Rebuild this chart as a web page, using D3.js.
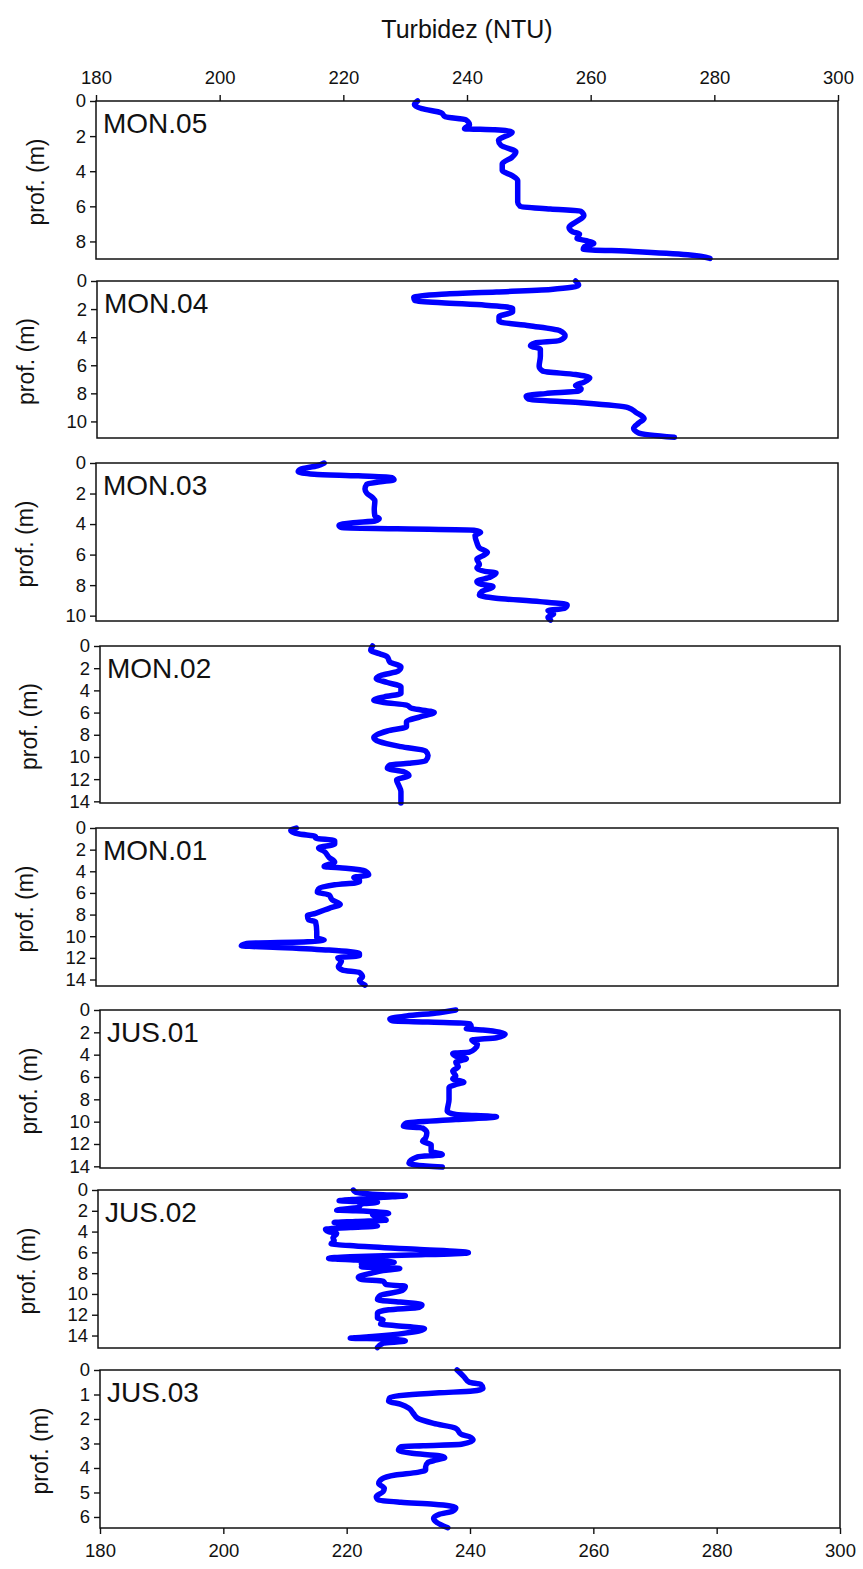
<!DOCTYPE html>
<html>
<head>
<meta charset="utf-8">
<script src="https://cdn.jsdelivr.net/npm/d3@7/dist/d3.min.js"></script>
<style>
  html, body { margin: 0; padding: 0; background: #fff; }
  svg { display: block; font-family: "Liberation Sans", Arial, sans-serif; }
</style>
</head>
<body>
<svg id="chart" width="863" height="1569"></svg>
<script>
// Turbidity profiles (NTU) against depth (m) at eight stations.
const stations = ["MON.05", "MON.04", "MON.03", "MON.02", "MON.01", "JUS.01", "JUS.02", "JUS.03"];
const turbTicks = [180, 200, 220, 240, 260, 280, 300];
const depthMax = [9, 11.18, 10.35, 14.15, 14.6, 14.15, 15.2, 6.45];
const depthStep = [2, 2, 2, 2, 2, 2, 2, 1];

const mon05Depth = [0, 0.2, 0.44, 0.67, 0.9, 1.07, 1.35, 1.58, 1.64, 1.77, 2.25, 2.53, 2.9, 3.2, 3.58, 3.96, 4.25, 4.53, 5.77, 6.0, 6.15, 6.28, 6.53, 6.91, 7.2, 7.45, 7.58, 7.83, 7.96, 8.11, 8.29, 8.44, 8.57, 8.76, 8.97];
const mon05Turb  = [232.0, 231.5, 232.7, 235.8, 236.5, 239.8, 240.4, 239.6, 244.5, 247.3, 245.1, 245.5, 247.9, 247.3, 245.7, 245.7, 247.3, 248.2, 248.2, 248.6, 253.5, 258.4, 258.9, 257.5, 256.5, 257.1, 258.2, 257.8, 259.3, 260.5, 259.0, 258.8, 266.9, 275.7, 279.3];

const mon04Depth = [0, 0.3, 0.6, 0.78, 0.94, 1.18, 1.41, 1.55, 1.72, 1.95, 2.19, 2.54, 2.89, 3.18, 3.53, 3.91, 4.24, 4.42, 4.61, 4.85, 5.36, 6.07, 6.42, 6.66, 6.89, 7.2, 7.44, 7.67, 7.84, 8.02, 8.19, 8.42, 8.66, 9.01, 9.36, 9.79, 10.12, 10.49, 10.82, 11.13];
const mon04Turb  = [257.5, 258.0, 253.5, 244.7, 235.8, 231.3, 231.5, 235.8, 242.9, 247.3, 247.3, 245.1, 245.1, 250.0, 254.9, 255.8, 254.9, 250.9, 250.2, 251.8, 251.8, 251.6, 252.2, 257.5, 259.8, 258.9, 257.5, 258.4, 258.0, 252.6, 249.5, 249.9, 258.0, 266.0, 267.3, 268.6, 267.7, 266.9, 267.7, 273.5];

const mon03Depth = [0, 0.18, 0.4, 0.57, 0.73, 0.84, 0.95, 1.1, 1.23, 1.38, 1.71, 1.98, 2.26, 2.48, 3.03, 3.47, 3.65, 3.8, 3.91, 4.09, 4.24, 4.31, 4.4, 4.53, 4.75, 5.23, 5.56, 5.85, 6.11, 6.29, 6.66, 6.88, 7.1, 7.21, 7.47, 7.76, 7.91, 8.09, 8.42, 8.64, 8.86, 9.08, 9.3, 9.52, 9.67, 9.89, 10.11, 10.29];
const mon03Turb  = [216.9, 215.8, 213.1, 212.7, 215.3, 222.4, 227.8, 228.2, 226.0, 223.8, 223.5, 223.8, 224.7, 225.1, 225.0, 225.1, 225.8, 225.1, 221.6, 219.3, 219.8, 228.7, 241.1, 242.2, 241.3, 241.6, 242.0, 243.3, 242.4, 241.6, 242.0, 241.6, 242.9, 244.7, 243.8, 241.6, 242.0, 244.2, 242.4, 242.0, 244.7, 251.8, 256.2, 255.8, 253.1, 254.0, 253.1, 253.5];

const mon02Depth = [0, 0.39, 0.69, 0.99, 1.44, 1.89, 2.28, 2.63, 2.93, 3.29, 3.68, 4.28, 4.58, 4.88, 5.09, 5.33, 5.63, 5.99, 6.38, 6.83, 7.28, 7.66, 8.26, 8.62, 9.07, 9.46, 9.88, 10.36, 10.57, 10.72, 11.02, 11.32, 11.68, 12.07, 12.51, 13.11, 14.15];
const mon02Turb  = [224.2, 223.9, 225.3, 226.6, 227.0, 228.8, 228.3, 225.7, 224.8, 226.6, 228.8, 228.8, 226.1, 224.4, 226.1, 229.7, 230.6, 234.2, 231.9, 229.7, 229.7, 226.6, 224.4, 225.3, 228.8, 232.8, 233.2, 232.8, 230.1, 227.0, 226.6, 229.2, 230.1, 228.1, 228.4, 228.8, 228.8];

const mon01Depth = [0, 0.25, 0.56, 0.77, 0.93, 1.17, 1.48, 1.85, 2.16, 2.72, 3.15, 3.55, 3.71, 3.96, 4.33, 4.57, 4.79, 5.0, 5.25, 5.62, 5.93, 6.18, 6.64, 7.05, 7.42, 7.88, 8.1, 8.5, 8.65, 9.58, 10.14, 10.35, 10.51, 10.66, 10.88, 11.06, 11.28, 11.59, 11.8, 11.99, 12.3, 12.82, 13.13, 13.35, 13.75, 14.06, 14.52];
const mon01Turb  = [212.4, 211.5, 212.9, 215.5, 215.5, 218.6, 218.6, 216.0, 216.9, 217.7, 218.6, 216.9, 220.4, 223.5, 224.1, 221.7, 222.6, 222.6, 218.6, 216.0, 215.8, 217.7, 218.2, 219.5, 217.7, 215.5, 214.2, 214.4, 215.5, 215.7, 215.7, 216.9, 214.2, 204.4, 203.5, 210.6, 217.7, 222.6, 222.6, 219.1, 219.7, 219.2, 219.9, 222.6, 223.1, 222.6, 223.5];

const jus01Depth = [0, 0.24, 0.54, 0.78, 0.99, 1.08, 1.2, 1.5, 1.68, 1.79, 2.18, 2.48, 2.69, 3.08, 3.47, 3.77, 3.89, 4.13, 4.37, 4.67, 5.09, 5.47, 5.92, 6.16, 6.46, 6.67, 6.97, 8.02, 9.06, 9.36, 9.57, 9.81, 10.11, 10.41, 10.57, 11.0, 11.46, 11.76, 12.06, 12.65, 12.95, 13.16, 13.7, 13.91, 14.06];
const jus01Turb  = [237.7, 235.0, 229.7, 227.0, 227.5, 233.2, 239.9, 240.2, 239.4, 242.1, 245.7, 244.3, 240.3, 241.2, 240.8, 239.9, 237.2, 237.7, 239.4, 237.7, 238.1, 237.2, 237.7, 237.2, 239.0, 237.7, 236.6, 236.6, 236.3, 237.7, 244.3, 237.7, 229.7, 229.2, 232.3, 233.0, 232.8, 232.3, 233.7, 233.7, 235.5, 231.5, 230.1, 231.5, 235.5];

const jus02Depth = [0, 0.23, 0.45, 0.55, 0.71, 0.87, 1.03, 1.1, 1.19, 1.35, 1.68, 1.94, 2.0, 2.26, 2.39, 2.65, 2.9, 3.03, 3.13, 3.29, 3.45, 3.61, 3.77, 4.0, 4.19, 4.58, 4.9, 5.16, 5.39, 5.71, 6.03, 6.26, 6.42, 6.58, 6.74, 6.84, 6.94, 7.1, 7.26, 7.39, 7.55, 7.74, 7.97, 8.39, 8.61, 8.77, 9.1, 9.26, 9.68, 10.13, 10.55, 10.77, 11.03, 11.29, 11.52, 11.84, 12.32, 12.48, 12.9, 13.03, 13.35, 13.77, 14.1, 14.26, 14.32, 14.52, 14.74, 15.16];
const jus02Turb  = [221.3, 221.7, 226.1, 229.7, 226.1, 222.6, 219.0, 221.7, 225.2, 222.6, 222.1, 218.6, 221.7, 227.0, 224.4, 225.2, 226.6, 221.7, 218.2, 222.6, 225.2, 220.8, 216.8, 217.3, 218.6, 218.0, 218.2, 217.7, 221.7, 231.5, 239.9, 230.6, 220.8, 217.3, 221.7, 226.1, 227.9, 222.6, 226.1, 222.6, 228.8, 226.1, 224.4, 222.1, 222.6, 226.1, 226.6, 229.7, 229.2, 225.7, 225.2, 228.8, 232.4, 231.9, 227.0, 225.2, 225.2, 226.1, 225.7, 227.9, 232.8, 229.7, 224.4, 220.8, 226.1, 229.7, 226.1, 225.2];

const jus03Depth = [0, 0.27, 0.5, 0.58, 0.75, 0.86, 0.93, 1.02, 1.13, 1.27, 1.4, 1.56, 1.77, 1.97, 2.18, 2.38, 2.63, 2.72, 2.86, 3.03, 3.09, 3.13, 3.27, 3.4, 3.5, 3.58, 3.67, 3.77, 3.95, 4.08, 4.18, 4.29, 4.45, 4.63, 4.83, 4.97, 5.17, 5.31, 5.4, 5.48, 5.62, 5.76, 5.89, 6.05, 6.22, 6.44];
const jus03Turb  = [237.9, 239.0, 239.9, 241.7, 242.1, 240.4, 235.0, 229.7, 227.0, 226.8, 228.8, 230.1, 230.8, 231.5, 234.1, 237.7, 238.6, 239.9, 240.5, 238.6, 232.4, 228.8, 228.4, 230.6, 235.0, 235.9, 234.6, 233.2, 232.8, 232.8, 231.5, 227.9, 225.7, 225.2, 226.1, 225.9, 224.8, 225.2, 228.8, 234.1, 237.7, 237.2, 235.0, 234.1, 234.6, 236.4];

const depthSeries = [mon05Depth, mon04Depth, mon03Depth, mon02Depth, mon01Depth, jus01Depth, jus02Depth, jus03Depth];
const turbSeries  = [mon05Turb, mon04Turb, mon03Turb, mon02Turb, mon01Turb, jus01Turb, jus02Turb, jus03Turb];

// Panel frames in page pixels: [left, top, right, bottom]
const frames = [
  [96, 101, 838, 259],
  [97, 281, 838, 438],
  [96, 463, 838, 621],
  [100, 646, 840, 803],
  [96, 828, 838, 986],
  [100, 1010, 840, 1168],
  [98, 1190, 840, 1348],
  [100, 1370, 840, 1528]
];

const svg = d3.select("#chart");
const ink = "#111";
const lineBlue = "#0000ff";
const tickFont = 18.5;

svg.append("text")
  .attr("x", 467).attr("y", 38)
  .attr("text-anchor", "middle")
  .attr("font-size", 25)
  .attr("fill", ink)
  .text("Turbidez (NTU)");

function styleAxis(sel) {
  sel.select(".domain").remove();
  sel.selectAll("line").attr("stroke", ink).attr("stroke-width", 1.4);
  sel.selectAll("text").attr("font-size", tickFont).attr("fill", ink)
    .attr("font-family", "'Liberation Sans', Arial, sans-serif");
}

stations.forEach((name, i) => {
  const [l, t, r, b] = frames[i];
  const x = d3.scaleLinear().domain([180, 300]).range([l, r]);
  const y = d3.scaleLinear().domain([0, depthMax[i]]).range([t, b]);
  const g = svg.append("g");

  // depth axis
  const ticks = d3.range(0, depthMax[i] + 1e-9, depthStep[i]);
  const yAxis = g.append("g")
    .attr("transform", `translate(${l},0)`)
    .call(d3.axisLeft(y).tickValues(ticks).tickSize(6).tickPadding(4).tickFormat(d3.format("d")));
  styleAxis(yAxis);

  // turbidity axis on top of the first panel and below the last one
  if (i === 0) {
    styleAxis(g.append("g").attr("transform", `translate(0,${t})`)
      .call(d3.axisTop(x).tickValues(turbTicks).tickSize(6).tickPadding(11)));
  }
  if (i === stations.length - 1) {
    styleAxis(g.append("g").attr("transform", `translate(0,${b})`)
      .call(d3.axisBottom(x).tickValues(turbTicks).tickSize(6).tickPadding(10)));
  }

  // profile
  const pts = depthSeries[i].map((d, k) => [turbSeries[i][k], d]);
  g.append("path")
    .datum(pts)
    .attr("fill", "none")
    .attr("stroke", lineBlue)
    .attr("stroke-width", 5.5)
    .attr("stroke-linejoin", "round")
    .attr("stroke-linecap", "round")
    .attr("d", d3.line().x(p => x(p[0])).y(p => y(p[1])).curve(d3.curveMonotoneY));

  // frame
  g.append("rect")
    .attr("x", l).attr("y", t)
    .attr("width", r - l).attr("height", b - t)
    .attr("fill", "none")
    .attr("stroke", ink)
    .attr("stroke-width", 1.5);

  // station label
  g.append("text")
    .attr("x", l + 7).attr("y", t + 32)
    .attr("font-size", 28)
    .attr("fill", ink)
    .text(name);

  // depth label, placed left of the widest tick label
  let minX = Infinity;
  yAxis.selectAll("text").each(function () {
    const bb = this.getBBox();
    const ctm = this.getCTM();
    minX = Math.min(minX, bb.x + ctm.e);
  });
  const cx = minX - 40;
  const cy = (t + b) / 2 + 2;
  g.append("text")
    .attr("transform", `translate(${cx + 8},${cy}) rotate(-90)`)
    .attr("text-anchor", "middle")
    .attr("font-size", 23)
    .attr("fill", ink)
    .text("prof. (m)");
});
</script>
</body>
</html>
